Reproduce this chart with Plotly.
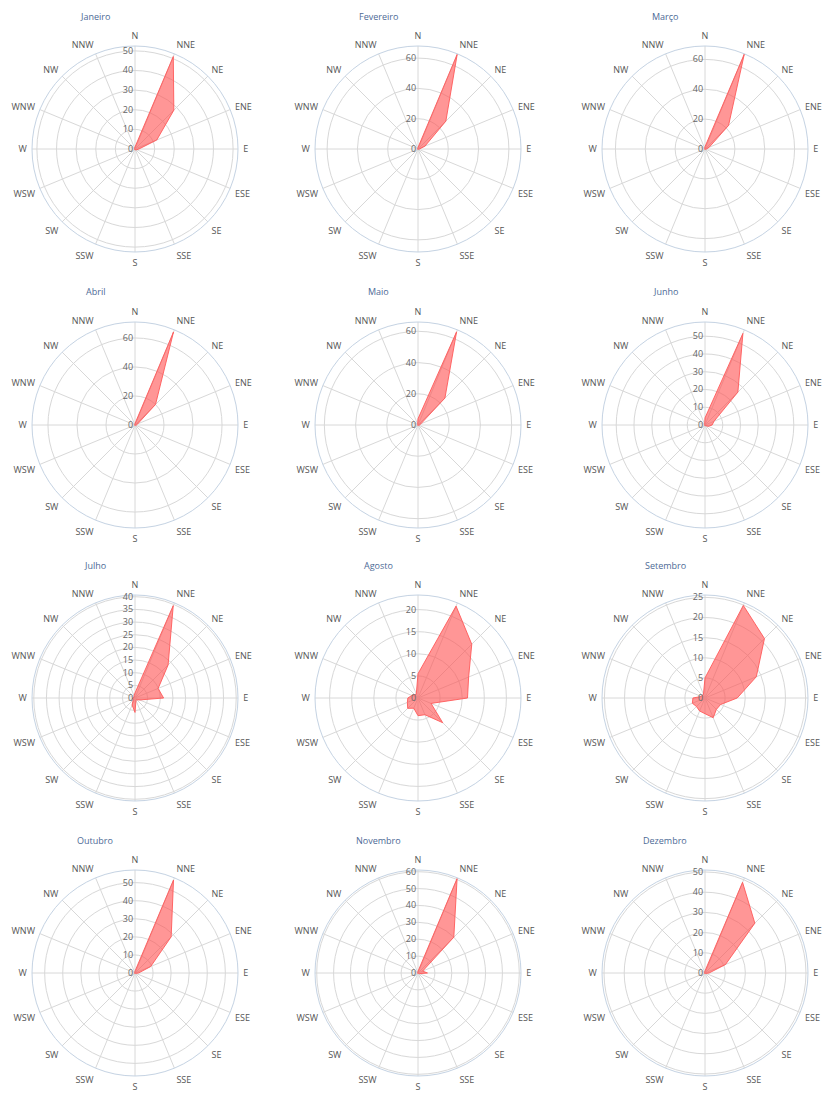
import plotly.graph_objects as go

directions = ["N", "NNE", "NE", "ENE", "E", "ESE", "SE", "SSE",
              "S", "SSW", "SW", "WSW", "W", "WNW", "NW", "NNW"]

months = ["Janeiro", "Fevereiro", "Março", "Abril", "Maio", "Junho",
          "Julho", "Agosto", "Setembro", "Outubro", "Novembro", "Dezembro"]

# frequency (%) per direction
janeiro = [1, 51, 28, 12, 2, 1, 0.5, 0.5, 0.5, 0.3, 0.3, 0.3, 0.3, 0.3, 0.3, 0.5]
fevereiro = [1, 67.6, 26, 5, 1, 0.5, 0.3, 0.3, 0.3, 0.3, 0.3, 0.3, 0.3, 0.3, 0.3, 0.5]
marco = [1.5, 68.8, 22.3, 3, 1, 0.5, 0.3, 0.3, 0.3, 0.3, 0.3, 0.3, 0.3, 0.3, 0.3, 0.5]
abril = [1, 69.4, 20, 2, 1, 0.5, 0.3, 0.3, 0.3, 0.3, 0.3, 0.3, 0.3, 0.3, 0.3, 0.5]
maio = [4, 64.6, 24.4, 2, 1, 0.5, 0.3, 0.3, 0.3, 0.3, 0.3, 0.3, 0.3, 0.3, 0.3, 0.5]
junho = [4, 55.8, 26.2, 5.5, 4, 2, 0.5, 0.5, 0.5, 0.3, 0.3, 0.3, 0.3, 0.3, 0.3, 0.5]
julho = [2, 39.5, 18.5, 9.9, 11.3, 2, 1, 1, 5.7, 3, 1, 1, 1, 0.5, 0.5, 1]
agosto = [5.5, 22.5, 17.2, 12.4, 11.2, 3.2, 7.9, 4.1, 4.0, 2.5, 3.3, 2.6, 2.3, 1.5, 1, 1]
setembro = [5, 24.9, 20.9, 13.8, 8, 4.2, 4, 5.3, 3.9, 3.5, 3, 3.4, 3, 1, 1, 1]
outubro = [1, 55.7, 28.3, 9.4, 2, 0.5, 0.3, 0.3, 0.3, 0.3, 0.3, 0.3, 0.3, 0.3, 0.3, 0.5]
novembro = [1, 60.5, 30, 3, 5.6, 1, 0.3, 0.3, 0.3, 0.3, 0.3, 0.3, 0.3, 0.3, 0.3, 0.5]
dezembro = [1, 48.6, 34.9, 11, 2, 0.5, 0.3, 0.3, 0.3, 0.3, 0.3, 0.3, 0.3, 0.3, 0.3, 0.5]

series = [janeiro, fevereiro, marco, abril, maio, junho,
          julho, agosto, setembro, outubro, novembro, dezembro]

# radial axis top and tick step per month
radial_max = [52.5, 68, 69, 71, 66, 58, 40.7, 23.3, 25.6, 57, 61, 51]
radial_step = [10, 20, 20, 20, 20, 10, 5, 5, 5, 10, 10, 10]

W, H = 829, 1093
col_x = [135, 418, 705]
row_y = [149, 425, 698, 973]
R = 103

fig = go.Figure()

for i, (name, vals) in enumerate(zip(months, series)):
    r, c = divmod(i, 3)
    cx, cy = col_x[c], row_y[r]
    key = "polar" if i == 0 else f"polar{i + 1}"

    fig.add_trace(go.Scatterpolar(
        r=vals + vals[:1],
        theta=directions + directions[:1],
        mode="lines",
        fill="toself",
        fillcolor="rgba(255,80,80,0.6)",
        line=dict(color="rgba(255,90,90,0.9)", width=1),
        subplot=key,
        showlegend=False,
        name=name,
    ))

    fig.update_layout(**{key: dict(
        domain=dict(x=[(cx - R) / W, (cx + R) / W],
                    y=[1 - (cy + R) / H, 1 - (cy - R) / H]),
        bgcolor="white",
        angularaxis=dict(
            direction="clockwise", rotation=90,
            categoryorder="array", categoryarray=directions,
            gridcolor="#d8d8d8", linecolor="#c5d3e3", linewidth=1,
            ticks="outside", ticklen=3, tickcolor="rgba(0,0,0,0)",
            tickfont=dict(size=9, color="#555", family="Open Sans"),
        ),
        radialaxis=dict(
            range=[0, radial_max[i]], dtick=radial_step[i], tick0=0,
            angle=90, side="counterclockwise", tickangle=90,
            gridcolor="#d8d8d8", showline=False, ticks="",
            tickfont=dict(size=9, color="#666", family="Open Sans"),
        ),
    )})

    fig.add_annotation(
        x=(cx - 40) / W, y=1 - (cy - 133) / H,
        xref="paper", yref="paper", text=name, showarrow=False,
        xanchor="center", yanchor="middle",
        font=dict(size=9, color="#4d6a96", family="Open Sans"),
    )

fig.update_layout(
    width=W, height=H,
    margin=dict(l=0, r=0, t=0, b=0),
    paper_bgcolor="white",
)

# drop the default body margin so the figure fills the window exactly
fig.write_html("out.html", config={"displayModeBar": False},
               post_script="document.body.style.margin='0';")
